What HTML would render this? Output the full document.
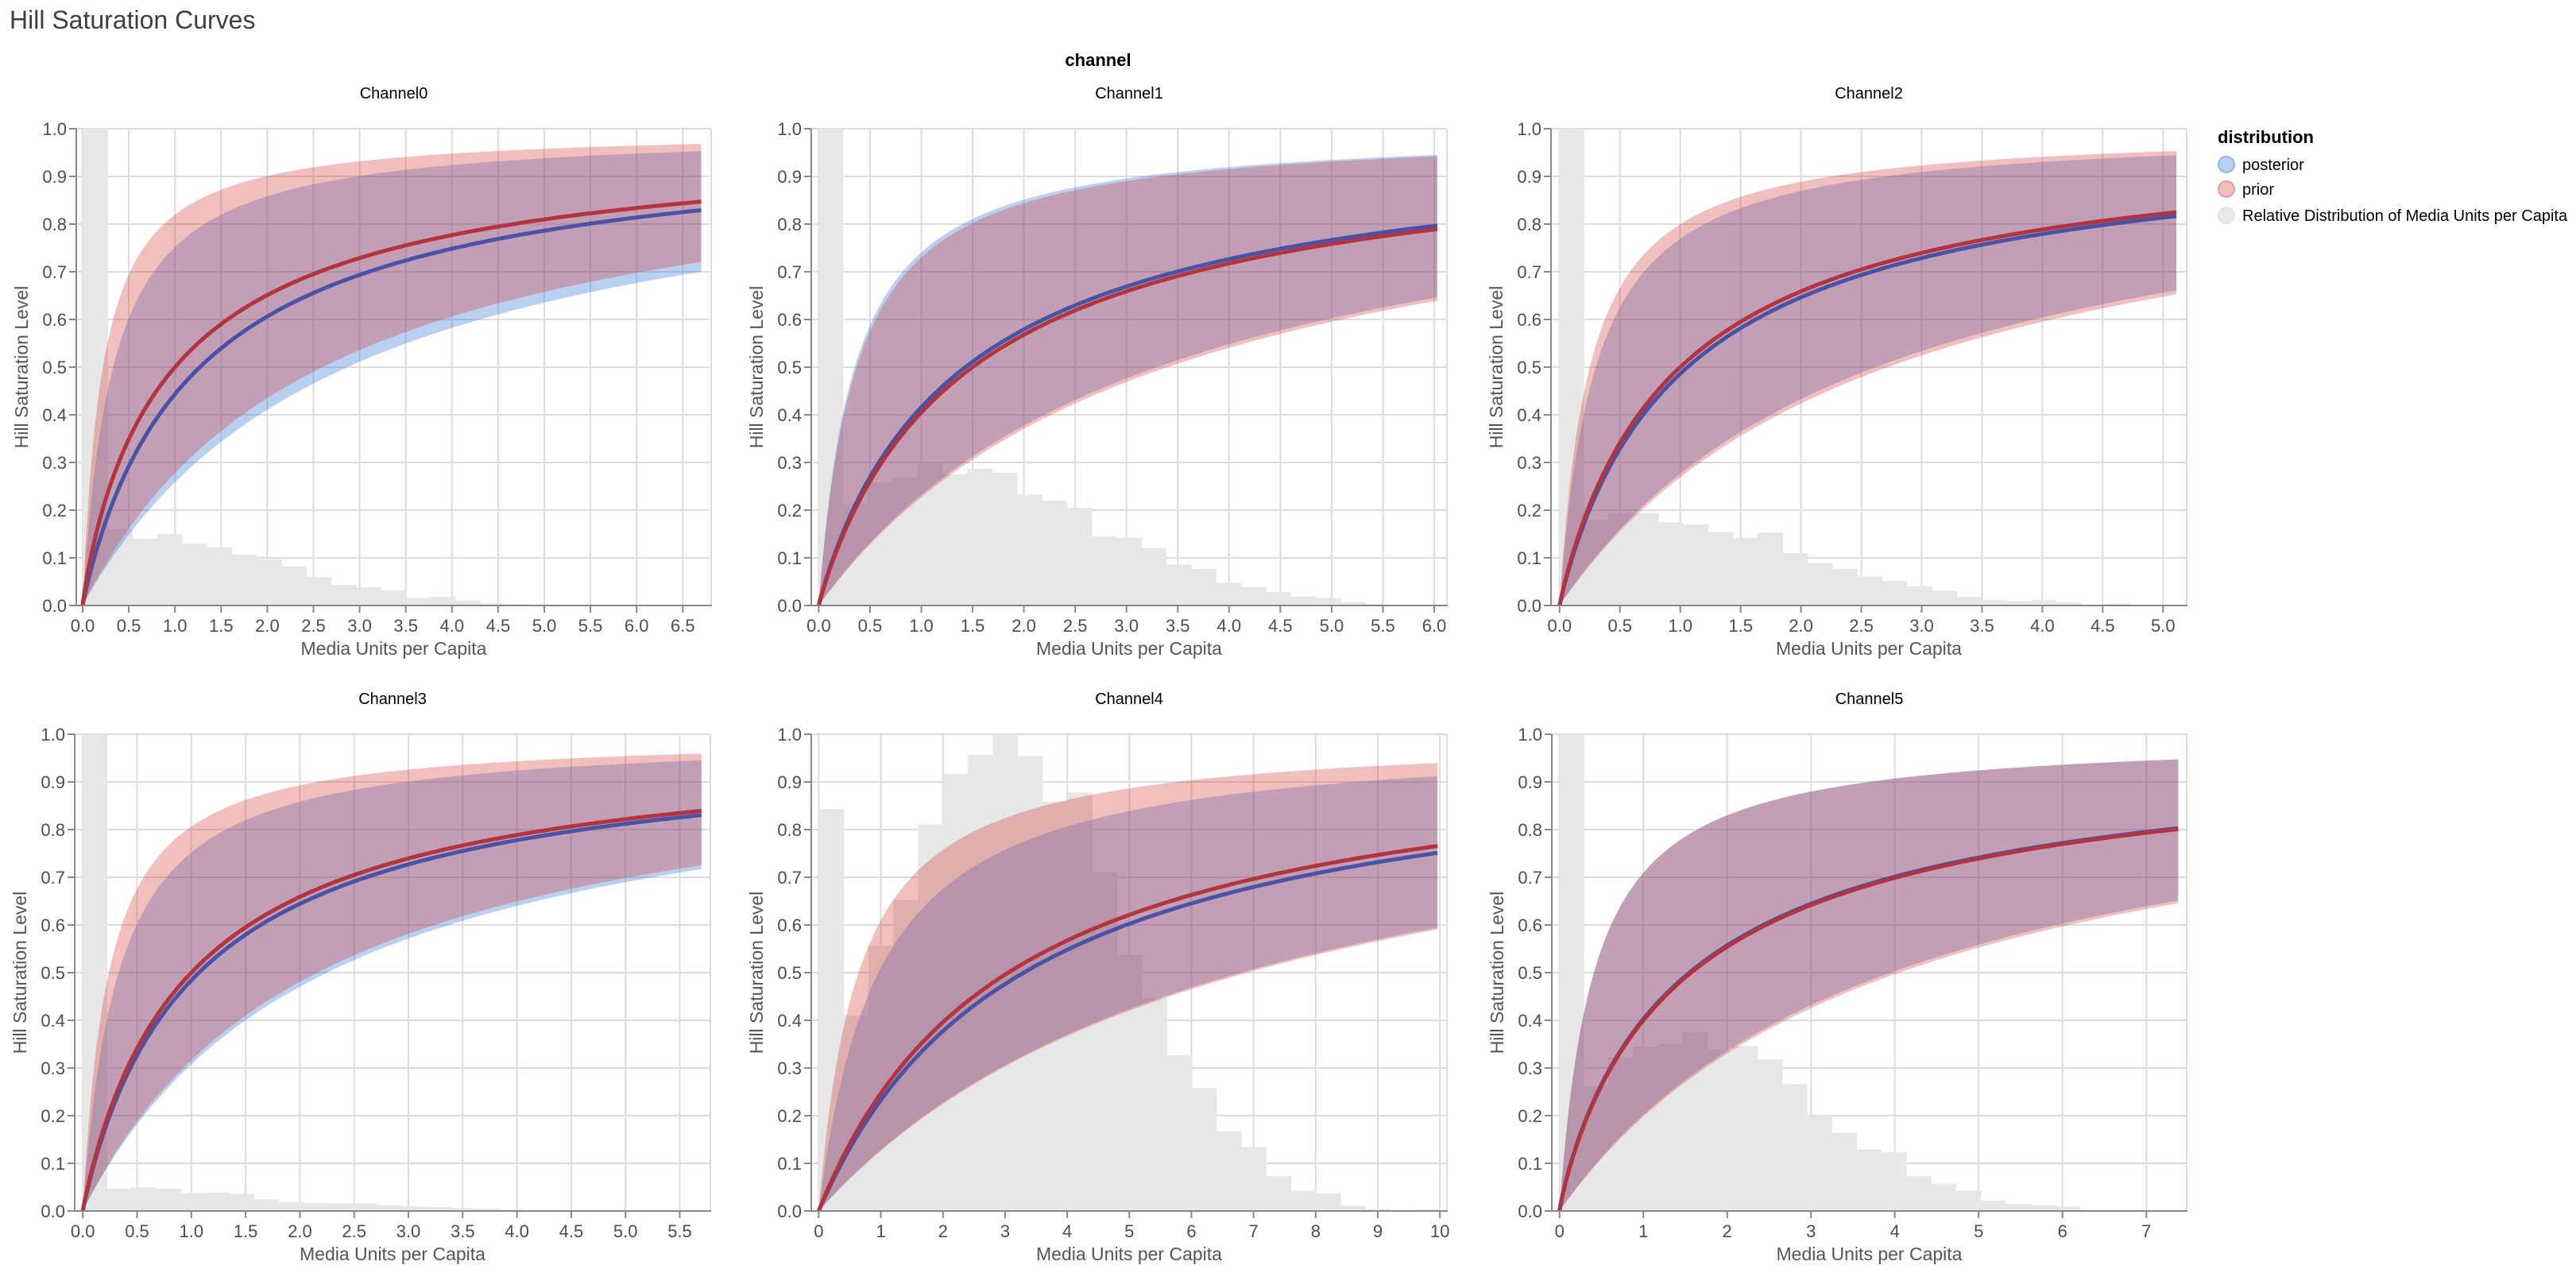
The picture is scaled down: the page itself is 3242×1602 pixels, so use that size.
<!DOCTYPE html>
<html><head><meta charset="utf-8">
<style>
html,body{margin:0;padding:0;background:#fff;}
svg{display:block;}
text{font-family:"Liberation Sans",Arial,sans-serif;}
</style></head>
<body>
<svg id="s" width="3242" height="1602" xmlns="http://www.w3.org/2000/svg">
<text x="12" y="36" font-size="32" fill="#3c4043">Hill Saturation Curves</text>
<text x="1382" y="83" font-size="22" font-weight="bold" text-anchor="middle" fill="#000">channel</text>
<text x="2791" y="180" font-size="22" font-weight="bold" fill="#000">distribution</text>
<circle cx="2802" cy="207" r="10" fill="#b9d0f0" stroke="#8fb3e8" stroke-width="2"/>
<text x="2822" y="214" font-size="20" fill="#000">posterior</text>
<circle cx="2802" cy="238" r="10" fill="#f2bfbf" stroke="#e89a9a" stroke-width="2"/>
<text x="2822" y="245" font-size="20" fill="#000">prior</text>
<circle cx="2802" cy="271" r="10" fill="#e8e9e8" stroke="#e2e3e2" stroke-width="2"/>
<text x="2822" y="278" font-size="20" fill="#000">Relative Distribution of Media Units per Capita</text>
<g id="g"></g>
</svg>
<script>
var NS="http://www.w3.org/2000/svg";
var G=document.getElementById('g');
function el(n,a,t){var e=document.createElementNS(NS,n);for(var k in a)e.setAttribute(k,a[k]);if(t!==undefined)e.textContent=t;G.appendChild(e);return e;}
function hill(x,k,s){if(x<=0)return 0;var p=Math.pow(x,s);return p/(p+Math.pow(k,s));}
var P=[
{name:"Channel0",L:96,R:895,T:162,x0:104,u:116.2,xmax:6.70,ticks:[0,.5,1,1.5,2,2.5,3,3.5,4,4.5,5,5.5,6,6.5],dec:1,
 pm:[1,0.9],qm:[1.27,0.95],pu:[0.22,1],qu:[0.33,1],pl:[2.6,1],ql:[2.87,1],bw:0.269,
 h:[1.2,0.16,0.14,0.15,0.13,0.122,0.107,0.097,0.082,0.06,0.043,0.038,0.032,0.016,0.018,0.01,0.005,0.003,0.002,0.001]},
{name:"Channel1",L:1021,R:1821,T:162,x0:1030.4,u:129.1,xmax:6.03,ticks:[0,.5,1,1.5,2,2.5,3,3.5,4,4.5,5,5.5,6],dec:1,
 pm:[1.5,0.95],qm:[1.43,0.95],pu:[0.37,1],qu:[0.35,1],pl:[3.4,1],ql:[3.3,1],bw:0.2425,first:0.235,
 h:[1.2,0.213,0.258,0.268,0.298,0.275,0.287,0.279,0.233,0.22,0.205,0.145,0.142,0.12,0.086,0.077,0.048,0.039,0.028,0.019,0.016,0.007,0.003]},
{name:"Channel2",L:1952,R:2752,T:162,x0:1962.8,u:151.9,xmax:5.11,ticks:[0,.5,1,1.5,2,2.5,3,3.5,4,4.5,5],dec:1,
 pm:[1,0.95],qm:[1.06,0.95],pu:[0.25,1],qu:[0.3,1],pl:[2.72,1],ql:[2.62,1],bw:0.206,first:0.2,
 h:[1.2,0.18,0.194,0.194,0.174,0.17,0.154,0.142,0.153,0.11,0.089,0.077,0.061,0.051,0.04,0.031,0.018,0.011,0.009,0.011,0.007,0.002,0.004]},
{name:"Channel3",L:94,R:894,T:924,x0:104.2,u:136.6,xmax:5.70,ticks:[0,.5,1,1.5,2,2.5,3,3.5,4,4.5,5,5.5],dec:1,
 pm:[1,0.95],qm:[1.07,0.95],pu:[0.24,1],qu:[0.33,1],pl:[2.16,1],ql:[2.25,1],bw:0.226,first:0.222,
 h:[1.2,0.047,0.05,0.047,0.038,0.039,0.036,0.024,0.019,0.017,0.016,0.016,0.012,0.01,0.008,0.006,0.005,0.003]},
{name:"Channel4",L:1021,R:1821,T:924,x0:1030.4,u:78.18,xmax:9.96,ticks:[0,1,2,3,4,5,6,7,8,9,10],dec:0,
 pm:[3.05,1],qm:[3.3,1],pu:[0.64,1],qu:[0.96,1],pl:[6.9,1],ql:[6.8,1],bw:0.4,
 h:[0.843,0.41,0.557,0.652,0.811,0.917,0.957,1.0,0.954,0.859,0.878,0.711,0.537,0.446,0.327,0.258,0.167,0.134,0.073,0.042,0.037,0.011,0.004,0.001,0.004]},
{name:"Channel5",L:1953,R:2752,T:924,x0:1962.7,u:105.5,xmax:7.38,ticks:[0,1,2,3,4,5,6,7],dec:0,
 pm:[1.57,0.9],qm:[1.55,0.9],pu:[0.41,1],qu:[0.41,1],pl:[4.05,1],ql:[3.95,1],bw:0.296,first:0.287,
 h:[1.2,0.262,0.322,0.345,0.35,0.376,0.338,0.346,0.318,0.266,0.199,0.164,0.129,0.123,0.073,0.057,0.043,0.022,0.015,0.013,0.01,0.002,0.001,0.002]}
];
P.forEach(function(p,i){
 var H=600,B=p.T+H;
 function X(v){return p.x0+v*p.u;}
 function Y(v){return B-v*H;}
 var cid="c"+i;
 var cp=el("clipPath",{id:cid});
 var r=document.createElementNS(NS,"rect");r.setAttribute("x",p.L);r.setAttribute("y",p.T);r.setAttribute("width",p.R-p.L);r.setAttribute("height",H);cp.appendChild(r);
 el("text",{x:(p.L+p.R)/2,y:p.T-38,"font-size":20,"text-anchor":"middle",fill:"#000"},p.name);
 for(var j=0;j<=10;j++){var yy=Y(j/10);el("line",{x1:p.L,x2:p.R,y1:yy,y2:yy,stroke:"#dcdcdc","stroke-width":2});}
 p.ticks.forEach(function(t){var xx=X(t);el("line",{x1:xx,x2:xx,y1:p.T,y2:B,stroke:"#dcdcdc","stroke-width":2});});
 el("line",{x1:p.R,x2:p.R,y1:p.T,y2:B,stroke:"#dcdcdc","stroke-width":2});
 var g=el("g",{"clip-path":"url(#"+cid+")"});
 var xs=0;
 p.h.forEach(function(v,k){
   var w=(k==0&&p.first)?p.first:p.bw;
   var rr=document.createElementNS(NS,"rect");
   rr.setAttribute("x",X(xs));rr.setAttribute("width",w*p.u+0.6);
   rr.setAttribute("y",Y(Math.min(v,1.05)));rr.setAttribute("height",Math.min(v,1.05)*H);
   rr.setAttribute("fill","#e6e7e6");g.appendChild(rr);xs+=w;
 });
 function band(up,lo){var n=160;var pts=[];for(var j=0;j<=n;j++){var x=p.xmax*Math.pow(j/n,1.6);pts.push([X(x),Y(hill(x,up[0],up[1]))]);}
  var pts2=[];for(var j=n;j>=0;j--){var x=p.xmax*Math.pow(j/n,1.6);pts2.push([X(x),Y(hill(x,lo[0],lo[1]))]);}
  return "M"+pts.concat(pts2).map(function(a){return a[0].toFixed(1)+","+a[1].toFixed(1);}).join("L")+"Z";}
 function line(m){var n=200,pts=[];for(var j=0;j<=n;j++){var x=p.xmax*Math.pow(j/n,1.6);pts.push(X(x).toFixed(1)+","+Y(hill(x,m[0],m[1])).toFixed(1));}return "M"+pts.join("L");}
 var gb=el("g",{"clip-path":"url(#"+cid+")"});
 var a1=document.createElementNS(NS,"path");a1.setAttribute("d",band(p.qu,p.ql));a1.setAttribute("fill","rgb(55,121,212)");a1.setAttribute("fill-opacity","0.35");gb.appendChild(a1);
 var a2=document.createElementNS(NS,"path");a2.setAttribute("d",band(p.pu,p.pl));a2.setAttribute("fill","rgb(214,51,51)");a2.setAttribute("fill-opacity","0.314");gb.appendChild(a2);
 var l1=document.createElementNS(NS,"path");l1.setAttribute("d",line(p.qm));l1.setAttribute("fill","none");l1.setAttribute("stroke","#4a52a6");l1.setAttribute("stroke-width","5");gb.appendChild(l1);
 var l2=document.createElementNS(NS,"path");l2.setAttribute("d",line(p.pm));l2.setAttribute("fill","none");l2.setAttribute("stroke","#b1343f");l2.setAttribute("stroke-width","5");gb.appendChild(l2);
 el("line",{x1:p.L,x2:p.L,y1:p.T,y2:B+1,stroke:"#888","stroke-width":2});
 el("line",{x1:p.L-1,x2:p.R+1,y1:B,y2:B,stroke:"#888","stroke-width":2});
 for(var j=0;j<=10;j++){var yy=Y(j/10);el("line",{x1:p.L-9,x2:p.L,y1:yy,y2:yy,stroke:"#888","stroke-width":2});
   el("text",{x:p.L-12,y:yy+8,"font-size":22,"text-anchor":"end",fill:"#4d4d4d"},(j/10).toFixed(1));}
 p.ticks.forEach(function(t){var xx=X(t);el("line",{x1:xx,x2:xx,y1:B,y2:B+9,stroke:"#888","stroke-width":2});
   el("text",{x:xx,y:B+33,"font-size":22,"text-anchor":"middle",fill:"#4d4d4d"},t.toFixed(p.dec));});
 el("text",{x:(p.L+p.R)/2,y:B+62,"font-size":23,"text-anchor":"middle",fill:"#555"},"Media Units per Capita");
 var tx=p.L-69,ty=p.T+H/2;
 el("text",{x:tx,y:ty,"font-size":23,"text-anchor":"middle",fill:"#555",transform:"rotate(-90 "+tx+" "+ty+") translate(0 8)"},"Hill Saturation Level");
});
</script>
</body></html>
